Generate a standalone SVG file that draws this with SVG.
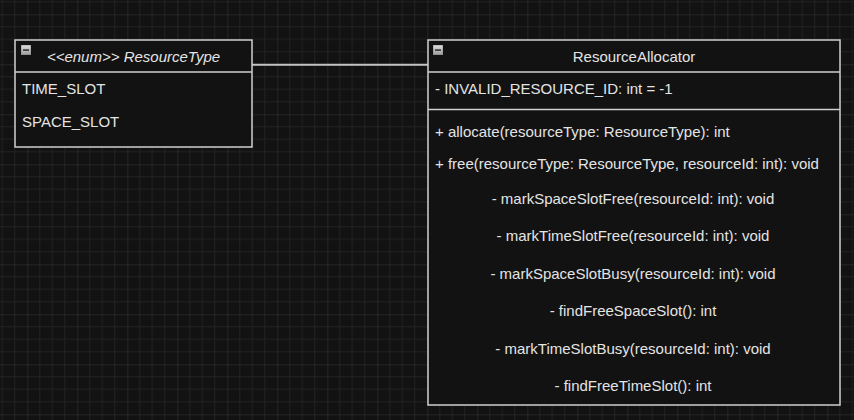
<svg xmlns="http://www.w3.org/2000/svg" width="854" height="420" viewBox="0 0 854 420">
<defs>
<pattern id="grid" x="27.3" y="14.3" width="50" height="50" patternUnits="userSpaceOnUse">
<path d="M12.5 0V50M25 0V50M37.5 0V50M0 12.5H50M0 25H50M0 37.5H50" stroke="#222" stroke-width="1" fill="none"/>
<path d="M0 0V50M0 0H50" stroke="#383838" stroke-width="1" fill="none"/>
</pattern>
<linearGradient id="ico" x1="0" y1="0" x2="0" y2="1">
<stop offset="0" stop-color="#e0e0e0"/>
<stop offset="1" stop-color="#9a9a9a"/>
</linearGradient>
<symbol id="collapse" viewBox="0 0 10 10">
<rect x="0" y="0" width="10" height="10" fill="url(#ico)" stroke="#777" stroke-width="0.6"/>
<rect x="2" y="4.3" width="6" height="1.6" fill="#333"/>
</symbol>
</defs>
<style>
.box{fill:#121212;stroke:#cfcfcf;stroke-width:1.5}
.div{stroke:#cfcfcf;stroke-width:1.5;fill:none}
.t{font-family:"Liberation Sans",Arial,sans-serif;font-size:15px;fill:#e4e4e4}
.c{text-anchor:middle}
.i{font-style:italic}
.conn{stroke:#c4c4c4;stroke-width:2;fill:none}
</style>
<rect width="854" height="420" fill="#121212"/>
<rect width="854" height="420" fill="url(#grid)"/>
<g id="connectors">
<path class="conn" d="M252 64.7H428"/>
</g>
<g id="ResourceType">
<rect class="box" x="15" y="40" width="237" height="107"/>
<path class="div" d="M15 72H252"/>
<use href="#collapse" x="21" y="45" width="10" height="10"/>
<text class="t c i" x="133.5" y="62">&lt;&lt;enum&gt;&gt; ResourceType</text>
<text class="t" x="22" y="94">TIME_SLOT</text>
<text class="t" x="22" y="127">SPACE_SLOT</text>
</g>
<g id="ResourceAllocator">
<rect class="box" x="428" y="40" width="412" height="365"/>
<path class="div" d="M428 72H840"/>
<path class="div" d="M428 109.5H840" stroke-width="2"/>
<use href="#collapse" x="433" y="45" width="10" height="10"/>
<text class="t c" x="634" y="62">ResourceAllocator</text>
<text class="t" x="435" y="94">- INVALID_RESOURCE_ID: int = -1</text>
<text class="t" x="435" y="137">+ allocate(resourceType: ResourceType): int</text>
<text class="t" x="435" y="169">+ free(resourceType: ResourceType, resourceId: int): void</text>
<text class="t c" x="633" y="204">- markSpaceSlotFree(resourceId: int): void</text>
<text class="t c" x="633" y="241">- markTimeSlotFree(resourceId: int): void</text>
<text class="t c" x="633" y="279">- markSpaceSlotBusy(resourceId: int): void</text>
<text class="t c" x="633" y="316">- findFreeSpaceSlot(): int</text>
<text class="t c" x="633" y="354">- markTimeSlotBusy(resourceId: int): void</text>
<text class="t c" x="633" y="391">- findFreeTimeSlot(): int</text>
</g>
</svg>
